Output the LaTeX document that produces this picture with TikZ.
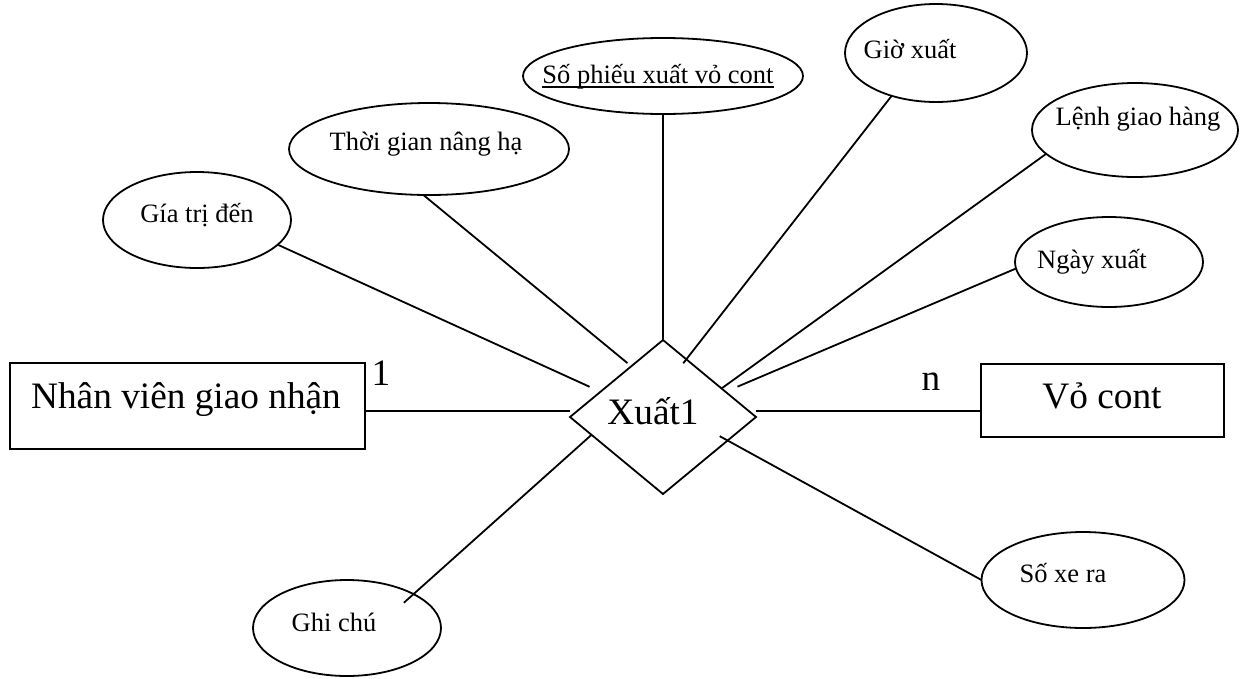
\documentclass[tikz,border=0pt]{standalone}
\usepackage{fontspec}
\setmainfont{Liberation Serif}
\usetikzlibrary{shapes.geometric}
\begin{document}
\begin{tikzpicture}[x=1pt,y=-1pt,
  line width=1.8pt,
  attr/.style={draw, ellipse, inner sep=0pt, outer sep=0pt},
  ent/.style={draw, rectangle, inner sep=0pt, outer sep=0pt},
  rel/.style={draw, diamond, inner sep=0pt, outer sep=0pt,
              minimum width=186pt, minimum height=154pt},
  small/.style={font=\fontsize{26.5}{30}\selectfont, anchor=base, inner sep=0pt},
  big/.style={font=\fontsize{37.3}{42}\selectfont, anchor=base, inner sep=0pt},
]
\useasboundingbox (0,0) rectangle (1247,678);

% relationship
\node[rel] (x) at (663,417) {};
\node[big] (x-t) at (653,424) {Xuất1};

% entities
\node[ent, minimum width=355pt, minimum height=86pt] (nv) at (187.5,406) {};
\node[big] (nv-t) at (186,408) {Nhân viên giao nhận};
\node[ent, minimum width=243pt, minimum height=73pt] (vc) at (1102.5,400.5) {};
\node[big] (vc-t) at (1102,408) {Vỏ cont};

% cardinalities
\node[big] (c1) at (381,385) {1};
\node[big] (cn) at (931,390) {n};

% attributes
\node[attr, minimum width=188pt, minimum height=96pt] (gt) at (197,220) {};
\node[small] (gt-t) at (197,222) {Gía trị đến};
\node[attr, minimum width=280pt, minimum height=92pt] (tg) at (429,149) {};
\node[small] (tg-t) at (426,150) {Thời gian nâng hạ};
\node[attr, minimum width=280pt, minimum height=76pt] (sp) at (663,76) {};
\node[small] (sp-t) at (658,83) {Số phiếu xuất vỏ cont};
% key attribute: underline just below the baseline
\draw[line width=1.4pt] (sp-t.base west) ++(0,4) coordinate (u1) -- (u1 -| sp-t.base east);
\node[attr, minimum width=182pt, minimum height=98pt] (gx) at (936,53) {};
\node[small] (gx-t) at (910,58) {Giờ xuất};
\node[attr, minimum width=206pt, minimum height=94pt] (lg) at (1135,130) {};
\node[small] (lg-t) at (1138,125) {Lệnh giao hàng};
\node[attr, minimum width=188pt, minimum height=90pt] (nx) at (1109,262) {};
\node[small] (nx-t) at (1092,268) {Ngày xuất};
\node[attr, minimum width=203pt, minimum height=96pt] (sx) at (1083,580) {};
\node[small] (sx-t) at (1063,582) {Số xe ra};
\node[attr, minimum width=188pt, minimum height=96pt] (gc) at (347,628) {};
\node[small] (gc-t) at (334,631) {Ghi chú};

% entity links
\draw (nv.east) ++(0,5) coordinate (l1) -- (l1 -| x.west);
\draw (x.east) ++(0,-6) coordinate (r1) -- (r1 -| vc.west);

% attribute links
\draw[shorten >=12pt] (gt.-17) -- (x.158);
\draw[shorten >=5pt] (tg.-97) -- (x.122);
\draw (sp.south) -- (x.north);
\draw[shorten >=-5pt] (gx.224) -- (x.68);
\draw (lg.195) -- (x.26);
\draw[shorten >=13pt] (nx.184) -- (x.22);
\draw[shorten >=-9pt] (sx.180) -- (x.-20);
\draw[shorten <=-13pt] (gc.27) -- (x.194);
\end{tikzpicture}
\end{document}
